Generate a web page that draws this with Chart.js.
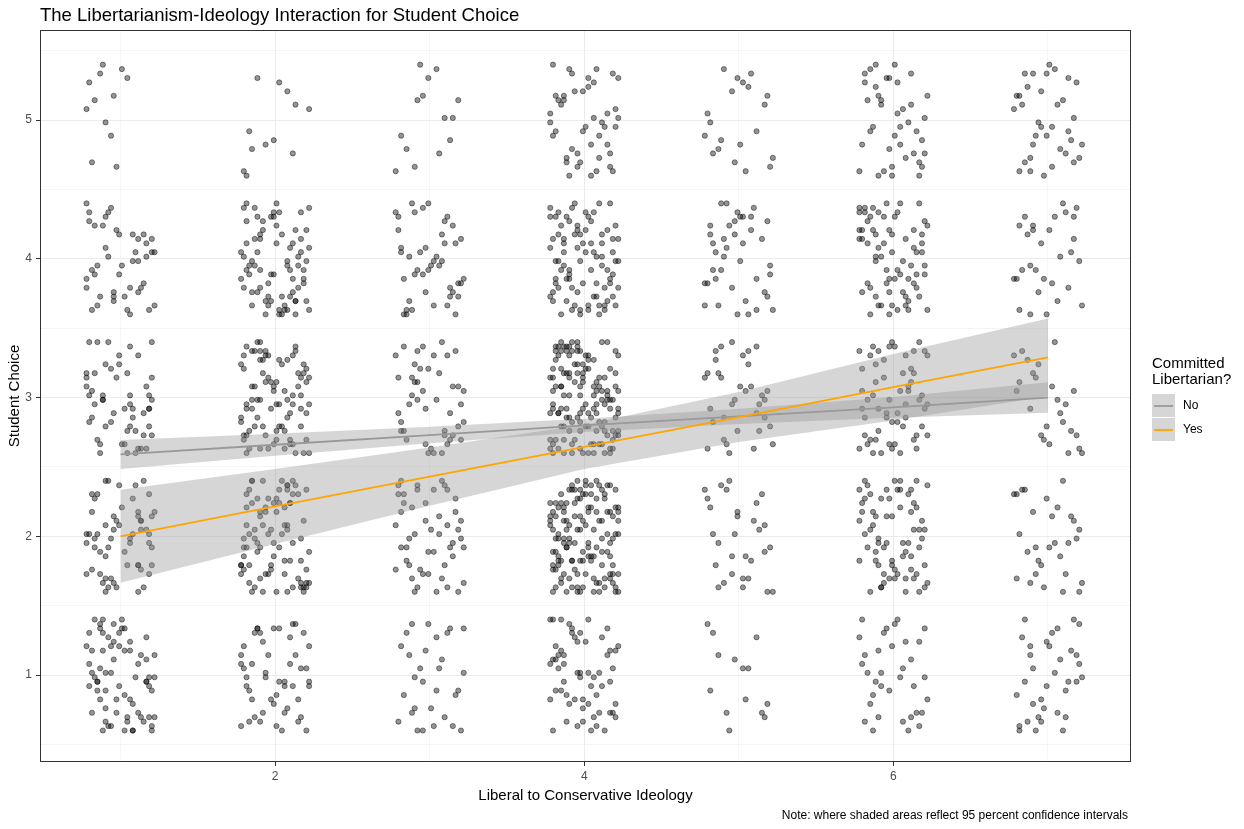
<!DOCTYPE html>
<html>
<head>
<meta charset="utf-8">
<script src="https://cdn.jsdelivr.net/npm/chart.js@4.4.1/dist/chart.umd.min.js"></script>
<style>
  body { margin: 0; background: #fff; }
  #wrap { width: 1244px; height: 829px; position: relative; }
</style>
</head>
<body>
<div id="wrap"><canvas id="myChart" width="1244" height="829"></canvas></div>
<script>
// ideology categories (x) and student choice levels (y)
var ideology = [1, 2, 3, 4, 5, 6, 7];
var choiceLevels = [1, 2, 3, 4, 5];

// tick / grid values
var xMajorTicks = [2, 4, 6];
var xMinorTicks = [1, 3, 5, 7];
var yMajorTicks = [1, 2, 3, 4, 5];
var yMinorTicks = [0.5, 1.5, 2.5, 3.5, 4.5, 5.5];

// jittered respondents, estimated by eye: one string per choice level (1..5),
// each pair of letters = (x offset, y offset), 'a' = far left/bottom, 'z' = far right/top
var jitterIdeo1 = [
  "kq bw fh sm xd oa yj el ur gz pc iv mt dz hn wq jb fx le os ya rg ku ox cn hf tp zd mw ib lh ej qs vc nz bk xm gw ra pd ud fy oi wl at mk ce qh zr jn gs nx bp el wv hc ra dm jt ky zm qu ga fo xk te yb cs hj wl",
  "ew ta rn hi jd vz lq kc my uf oj xl cw pg tr sy bn ae ik hd dv hp yk qm an fj zs uo tg xe vb ko en yr gc ql xw mp ha ts tg cs iz dk uq lb fe xn rv jm hz al dm uq wo ib kr cf yg nt",
  "bn pf xg jt rk ym sa hu ve ql mw yr tb co ed kj gn iz ps fa ri fc bz ye pa mu hg tw ok xn xk gm lr wb jh ez ap ds qn ci qy vj dl ar sf oc gm xk bh wp nc ub as qg yz",
  "so vh mj ke xb tr in qg du az ag tm zc hw pb kf yo rs el ix dj qa wn bv lt fe ck ug ms yr hp zo ec wq ai nl gu bx tf kd jy rm vs cb oe",
  "ap fx dr lc bv pw jj hm ny cd gz ks"
];
var jitterIdeo2 = [
  "wd qk ab jm zt ep hc uy gx ol rf ni sv ck xw bo lh pa ty dj mg ur ie zk fw vc ox ap jn ql ya eh bt kr wo gx cm sp iu fd zl nb vh qe dc mx tk hw ar yo",
  "je ra wb qp ck ox hd yf tz gl mi su nv bk dc rx ea wh zj ip fm lo qt yc ag kn vd xb hs ou cp tw js ez bf ry lg mu dn ia xq gv ok hr fb pz ae wc tl ns uy bm ke yx iz qh ct ro dg vw gj pn xa lf wm eu hk tb su ry zc fo bi ml kv qe na dx jt yb cw rp ag sh ez",
  "tl yq gz ce rv hb mp wk ai xu sd jx bw nf qo em kr pg uy cl hv og za is db fx lq wn yj tc ek rm vp ah gi xs cy bt nd jw qf zl mo kb sc hx ua wr ep iv fg ol yd tn be jq ck vs gm xa ri hz pu kw df au nl mc ex sj yt qb ov lk ig zr tw bd hm fp ca je wg nq ux",
  "gw ob rl ti ud ym ja ef xk cq hr ps nu vg zb ld kc wx ao mj fy iv tq se ck xh bn rm oa yd gf dj zp lw ut hk qb ec nz mx ai sp bg wo vl yt kh fr cz pe jd nq mw rb xi ua go hs dl tf zy ke qc vn by lj wr it pa em ox hg ud sk cv fl",
  "mi ca rt zp dk gw ov bb tf jh uq eg"
];
var jitterIdeo3 = [
  "bc ls tw hf qo xj di zn ka pv ux ge rq my ob wi ct fr ya kl hm sd zx vb pj gy nf ew jo ia",
  "wv ek pa cs ix tb rz fm oj yq gd hn lu zk xa me bw qr du vi jf sy ck ap no tx eh ym ib zc lq fg uk ws rd ha ox gt cz mj by ke qn tp dw af iy vl sg xo",
  "ma ix qs zh cf ko tw br yl ed gn uj vp hq lc wx df oa jt rz pm xg nb se aw ky iq fl ud ch zo gr mt ve bj xp lk yd hu ra tc ow sf im dy",
  "ql gz bw vu xh ea ky di om rs lf tc hj pn ax ue sv mk gb yr jo wq cp fd zi nl eb tw rm hx ik da ug sq oc vf yh mz lp bt kj xe wa fn co",
  "ab sn ir mw qf jz cj ui py vn ks eg hc xr"
];
var jitterIdeo4 = [
  "ri ct ws kb mh xo ez ap fl yg qd jv nu ah bq se vx lm og iw cj dr zt kn ua fp hy wl xe mc gi rb tk bz on pa yd lw es vr cq mf jh sn az ix ku do we hg fr ln tv qm ej ba ys gc oz pk",
  "gk rc ap ws hm tx yb nz fe qo ud jl ix ba kv mq os dg cr wy ze lh eu pt vn bj ft ya rk xm qd ih mw cf zs go lx kb dn tj aq sy ew uv jr hp np bg ka oi fm xc yt wl ed rz mh cu vj sq dt ib lo za pw ny ke gq fs hx ub cj qa tm rv ol xg eh jf wd gk zq vs mb au iy kz dh py lr nw fq sa ec tg bo hl yx ju wi ok cm ph xe rs zt qi ga di lv bf uw ne yn mj sc ar ko hd tq pi we fl jx cb vy gu dm zn la xr bs ot ih",
  "qc lx oa hr vm zk bt dw ye gi sp ju fn cx ab wk ky mq ep rl tg iz xd hs nw ov uf ba lj ze gk cp dy wt ms qa hi rf bo vn ku yx aj fg ez ic lp ow nt xb jd mr sh qv ua bc tz gy ek rq hf vo zj xm pi ln fd cy wa ks og et bl ur dj ih ma ys qn zf cv kx ix lb hw ro ep tc mk fy gs uh ar vz jq db nl wm ot ki yp sc zw eg qk br xf lh ad hn ia mu kz to fs ve dj yi gx pc wb rj ul cd ex ng tm zo qp hy bk fa oj sr lf",
  "ae ts ku wz xj rn gi oc pq lb mh vd bf yu hk dx js qo ea cw nt zg iy fr lm ub kp ow tq sa xe gd ci hv ym ek br fl jz vt qx ap no wh ds cm ug zr ib kf tn re ls xo jc ay hi gw dm pv vk fq ob wi eu sz mq yc la rh bd kt nx ig hj qe uc pk xr fo dg zm aw tl sc ch",
  "ry ha tm bz wf kc ix ou sj ge ld qv yp ck zn am fr xb ow vh jt eq gd ul cs mk hy pa nl zw bj kf dr rb vo ig xx se wc ph qn yl mt fs ao"
];
var jitterIdeo5 = [
  "dw xg ja qo by fr lq ph tv ie wd oo cj ve",
  "ct ki gy xa wp ms qd bv fl rh jz uo ob ix eg ln vw hc yk sq dn za mr pi ke tu fb wj ax od",
  "np wi bs qx hd zc kl uf ar gy ev ty lm xo ja dh ic sb ow rp mf yg fs ck qu vn ex kz hi bb tj wm gr po ul",
  "ip ma xe rt gz cs bh yl ow dk fc ju lv eo qa nw sy ti hn zb kg ah mx vr oq pd cu wf iz yj ls tb ei gk nm dq xv hr ac rw",
  "cm xs gi pb hy ze wq ld tk bo nh rx aj ov yc fg kt qu mw df"
];
var jitterIdeo6 = [
  "fa td kx ym bp ru ve in qc zh gl wb hs jw oz dn mt sa uk xe eg cr pm lj ik yx av tq bz ny hd wu qo fi cc",
  "pz mh ew yb ql ud ts kr ax gj wo ib hm cv nf zy ra oe jk fs ld xq ti bu mg vz sw cn hl dy ea kx yg pt uo rj aq zc gh iv xm nd ox tf wk je bs fp mr qi cz lv dk vt hg yo sl wa rd uu kl ib gr px nz eo ah ve jc tx",
  "hx tq dc ze ly pa wm jr oh gu bk fn ve qs ci yx mz ab ud sp kj nc rw xg ia ew zl bo tt hf dm gq ux yk lc jv wz mh fa rl ce so po ki ax vb ny qg ed bt zw hk ri us fy gd oj lm mb xn",
  "we dh lt qm ay bf kz xo gs up ms rc ic yj ox hx tl zb vg ea nw fy jq br ut sd pj kh gm yv dq ax hc ok wz li re mo bt qf vj eg xs zu cy in ft la sb hp jw kk rr ge pz dv ni yl at mc ob uh xq lf ew si ar cx vo gn",
  "tq mc kw xi ab gz re uf ph yn fl ov iq sm cx nj wd dr ha ey jb lw bh vk zs gu oo ek qp ma yf ir xc cv pl hs lg tx nz wa"
];
var jitterIdeo7 = [
  "ho yp kc ca tj qx gr xl mu ez bi vs lf ow pn jd rq sa dv hg ia wz zm nt el ul fc cb yy mk qe kh td xr gt",
  "ul ie aw sz nk vr gc bd xm jh or ya te qt cn yo fj pl hs wq lb mv zc dx kg ri ex ik sa bw",
  "cq ir pz vf za mg dx hs wo yb ju gk tl aw xe nc rj bo fv ld ke op ua sh qm",
  "ew wr cb rn ym ga kq ht nt sz ma xy jf bi qd vo gl tx oh zc dk pw fs li hu cu ww ik ug ai",
  "fu uw cb wn kt hx ye rg mj ap tf bs ij xv qq gb zh ol jm ed nz dq sr vi la wd cs py hh ge oc mx uk kl ex"
];
var jitterByIdeology = [jitterIdeo1, jitterIdeo2, jitterIdeo3, jitterIdeo4, jitterIdeo5, jitterIdeo6, jitterIdeo7];

// fitted lines (geom_smooth lm), at x = 1..7
var fitNo = [2.59, 2.66, 2.73, 2.80, 2.865, 2.93, 3.00];
var fitNoLow = [2.485, 2.58, 2.67, 2.752, 2.81, 2.855, 2.89];
var fitNoHigh = [2.695, 2.74, 2.79, 2.848, 2.92, 3.005, 3.11];
var fitYes = [2.00, 2.215, 2.43, 2.645, 2.86, 3.075, 3.29];
var fitYesLow = [1.665, 1.945, 2.22, 2.485, 2.68, 2.835, 3.01];
var fitYesHigh = [2.335, 2.485, 2.64, 2.805, 3.04, 3.315, 3.57];

var FONT = '"Liberation Sans", Arial, sans-serif';

function decodeJitter(cat, level, str) {
  var s = str.replace(/[^a-z]/g, '');
  var out = [];
  for (var i = 0; i + 1 < s.length; i += 2) {
    var dx = (s.charCodeAt(i) - 97 - 12.5) / 12.5 * 0.22;
    var dy = (s.charCodeAt(i + 1) - 97 - 12.5) / 12.5 * 0.4;
    out.push({ x: cat + dx, y: level + dy });
  }
  return out;
}

var respondents = [];
ideology.forEach(function (cat, i) {
  choiceLevels.forEach(function (level, j) {
    respondents = respondents.concat(decodeJitter(cat, level, jitterByIdeology[i][j]));
  });
});

function toPoints(values) {
  return values.map(function (v, i) { return { x: ideology[i], y: v }; });
}

var bandFill = 'rgba(153,153,153,0.4)';

var ggExtras = {
  id: 'ggExtras',
  afterDraw: function (chart) {
    var ctx = chart.ctx;
    var a = chart.chartArea;
    ctx.save();
    // panel border
    ctx.strokeStyle = '#333333';
    ctx.lineWidth = 1;
    ctx.strokeRect(a.left + 0.5, a.top + 0.5, a.right - a.left - 1, a.bottom - a.top - 1);

    // title
    ctx.fillStyle = '#000';
    ctx.textBaseline = 'middle';
    ctx.textAlign = 'left';
    ctx.font = '18.5px ' + FONT;
    ctx.fillText('The Libertarianism-Ideology Interaction for Student Choice', a.left, 16);

    // legend
    ctx.font = '15px ' + FONT;
    ctx.fillText('Committed', 1152, 364);
    ctx.fillText('Libertarian?', 1152, 380);
    ctx.fillStyle = bandFill;
    ctx.fillRect(1152, 394, 23, 23);
    ctx.fillRect(1152, 418, 23, 23);
    ctx.lineWidth = 1.8;
    ctx.strokeStyle = '#999999';
    ctx.beginPath(); ctx.moveTo(1154, 406); ctx.lineTo(1173, 406); ctx.stroke();
    ctx.strokeStyle = '#FFA500';
    ctx.beginPath(); ctx.moveTo(1154, 430); ctx.lineTo(1173, 430); ctx.stroke();
    ctx.fillStyle = '#000';
    ctx.font = '12px ' + FONT;
    ctx.fillText('No', 1183, 406);
    ctx.fillText('Yes', 1183, 430);

    // caption
    ctx.textAlign = 'right';
    ctx.font = '12px ' + FONT;
    ctx.fillText('Note: where shaded areas reflect 95 percent confidence intervals', a.right - 3, 816);
    ctx.restore();
  }
};

function gridWidth(majors) {
  return function (c) { return c.tick && majors.indexOf(c.tick.value) >= 0 ? 1 : 0.5; };
}
function tickColour(majors) {
  return function (c) { return c.tick && majors.indexOf(c.tick.value) >= 0 ? '#333333' : 'rgba(0,0,0,0)'; };
}

const ctx = document.getElementById('myChart');

new Chart(ctx, {
  type: 'scatter',
  data: {
    datasets: [
      {
        label: 'No',
        type: 'line',
        data: toPoints(fitNo),
        borderColor: '#999999',
        borderWidth: 1.8,
        pointRadius: 0,
        fill: false,
        order: 1
      },
      {
        label: 'Yes',
        type: 'line',
        data: toPoints(fitYes),
        borderColor: '#FFA500',
        borderWidth: 1.8,
        pointRadius: 0,
        fill: false,
        order: 0
      },
      {
        label: 'No upper',
        type: 'line',
        data: toPoints(fitNoHigh),
        borderWidth: 0,
        pointRadius: 0,
        backgroundColor: bandFill,
        fill: '+1',
        order: 5
      },
      {
        label: 'No lower',
        type: 'line',
        data: toPoints(fitNoLow),
        borderWidth: 0,
        pointRadius: 0,
        fill: false,
        order: 5
      },
      {
        label: 'Yes upper',
        type: 'line',
        data: toPoints(fitYesHigh),
        borderWidth: 0,
        pointRadius: 0,
        backgroundColor: bandFill,
        fill: '+1',
        order: 6
      },
      {
        label: 'Yes lower',
        type: 'line',
        data: toPoints(fitYesLow),
        borderWidth: 0,
        pointRadius: 0,
        fill: false,
        order: 6
      },
      {
        label: 'Respondents',
        data: respondents,
        pointRadius: 2.6,
        backgroundColor: 'rgba(0,0,0,0.42)',
        borderColor: 'rgba(0,0,0,0.55)',
        borderWidth: 0.8,
        order: 10
      }
    ]
  },
  options: {
    responsive: false,
    devicePixelRatio: 1,
    animation: false,
    layout: { padding: { top: 30, right: 113, left: 0, bottom: 0 } },
    plugins: {
      legend: { display: false },
      tooltip: { enabled: false }
    },
    scales: {
      x: {
        type: 'linear',
        min: 0.479,
        max: 7.537,
        afterBuildTicks: function (scale) {
          scale.ticks = xMajorTicks.concat(xMinorTicks).sort().map(function (v) { return { value: v }; });
        },
        afterFit: function (scale) { scale.height = 67; },
        border: { display: false },
        grid: {
          color: '#ebebeb',
          lineWidth: gridWidth(xMajorTicks),
          tickColor: tickColour(xMajorTicks),
          tickLength: 4,
          tickWidth: 1
        },
        ticks: {
          autoSkip: false,
          maxRotation: 0,
          padding: 3,
          color: '#4d4d4d',
          font: { family: FONT, size: 12 },
          callback: function (v) { return xMajorTicks.indexOf(v) >= 0 ? String(v) : ''; }
        },
        title: {
          display: true,
          text: 'Liberal to Conservative Ideology',
          color: '#000',
          font: { family: FONT, size: 15 },
          padding: { top: 0, bottom: 24 }
        }
      },
      y: {
        type: 'linear',
        min: 0.373,
        max: 5.65,
        afterBuildTicks: function (scale) {
          scale.ticks = yMajorTicks.concat(yMinorTicks).sort().map(function (v) { return { value: v }; });
        },
        afterFit: function (scale) { scale.width = 40; },
        border: { display: false },
        grid: {
          color: '#ebebeb',
          lineWidth: gridWidth(yMajorTicks),
          tickColor: tickColour(yMajorTicks),
          tickLength: 4,
          tickWidth: 1
        },
        ticks: {
          autoSkip: false,
          padding: 4,
          color: '#4d4d4d',
          font: { family: FONT, size: 12 },
          callback: function (v) { return yMajorTicks.indexOf(v) >= 0 ? String(v) : ''; }
        },
        title: {
          display: true,
          text: 'Student Choice',
          color: '#000',
          font: { family: FONT, size: 15 },
          padding: { top: 6, bottom: 0 }
        }
      }
    }
  },
  plugins: [ggExtras]
});
</script>
</body>
</html>
